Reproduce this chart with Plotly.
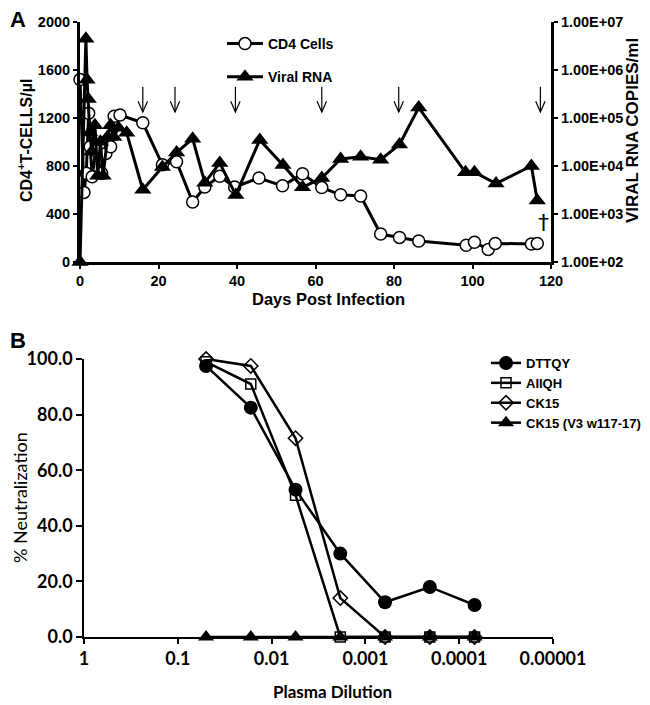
import plotly.graph_objects as go

# ---------------- Panel A data ----------------
cd4_days = [0, 1, 1.6, 2.2, 2.6, 3.1, 4, 5.5, 6.6, 7.8, 8.7, 10.2, 16, 21, 24.6, 28.7,
            31.8, 35.6, 39.4, 45.6, 51.6, 56.7, 61.6, 66.4, 71.5, 76.6, 81.4, 86.3,
            98.4, 100.5, 104, 105.8, 115, 116.5]
cd4_cells = [1520, 580, 740, 1240, 960, 710, 930, 740, 905, 960, 1215, 1225, 1160, 810, 835, 500,
             625, 715, 625, 700, 635, 735, 620, 560, 550, 233, 205, 175,
             140, 165, 105, 155, 150, 155]

rna_days = [0, 1.5, 1.8, 2.1, 2.5, 3.0, 3.8, 4.5, 5.2, 5.9, 7.0, 7.8, 8.6, 9.8, 11.9, 16, 21,
            24.6, 28.7, 31.8, 35.6, 39.7, 45.8, 51.7, 56.7, 61.6, 66.4, 71.5, 76.6, 81.4,
            86.3, 98.2, 100.5, 106, 115, 116.5]
rna_copies = [100, 4.5e6, 6.3e5, 2.5e5, 5.0e4, 2.0e4, 7.1e4, 6.3e3, 3.2e4, 6.3e3, 4.0e4, 7.1e4,
              4.0e4, 6.3e4, 4.9e4, 3.2e3, 9.5e3, 1.9e4, 3.7e4, 4.5e3, 1.15e4, 2.5e3, 3.5e4,
              1.05e4, 3.6e3, 5.6e3, 1.4e4, 1.55e4, 1.35e4, 2.8e4, 1.65e5, 7.4e3, 7.4e3, 4.3e3,
              1.0e4, 1.9e3]

arrow_days = [16, 24.2, 39.6, 61.6, 81.2, 117.3]
dagger_day = 118.0
dagger_level = 330

left_ticks = [0, 400, 800, 1200, 1600, 2000]
right_tickvals = [1e2, 1e3, 1e4, 1e5, 1e6, 1e7]
right_ticktext = ["1.00E+02", "1.00E+03", "1.00E+04", "1.00E+05", "1.00E+06", "1.00E+07"]
day_ticks = [0, 20, 40, 60, 80, 100, 120]

# ---------------- Panel B data ----------------
plasma_dilution = [1/20, 1/60, 1/180, 1/540, 1/1620, 1/4860, 1/14580]
dttqy = [97.5, 82.5, 53.0, 30.0, 12.5, 18.0, 11.5]
aiiqh = [99.0, 91.0, 51.0, 0.0, 0.0, 0.0, 0.0]
ck15 = [100.0, 97.5, 71.5, 14.0, 0.0, 0.0, 0.0]
ck15_v3 = [0.0, 0.0, 0.0, 0.0, 0.0, 0.0, 0.0]
dil_tickvals = [1, 0.1, 0.01, 0.001, 0.0001, 0.00001]
dil_ticktext = ["1", "0.1", "0.01", "0.001", "0.0001", "0.00001"]
neut_ticks = [0, 20, 40, 60, 80, 100]

W, H = 650, 705
OFF = 8  # page body margin
def px(x):
    return (x - OFF) / W
def py(y):
    return 1 - (y - OFF) / H

FA = "Liberation Sans"
FB = "Lato"

fig = go.Figure()

# Panel A traces
fig.add_trace(go.Scatter(
    x=cd4_days, y=cd4_cells, name="CD4 Cells", mode="lines+markers",
    line=dict(color="black", width=3),
    marker=dict(symbol="circle", size=12, color="white", line=dict(color="black", width=1.5)),
    xaxis="x", yaxis="y", cliponaxis=False, legend="legend", legendgroup="a1"))
fig.add_trace(go.Scatter(
    x=rna_days, y=rna_copies, name="Viral RNA", mode="lines+markers",
    line=dict(color="black", width=3),
    marker=dict(symbol="triangle-up", size=15, color="black"),
    xaxis="x", yaxis="y2", cliponaxis=False, legend="legend", legendgroup="a2"))

# Panel B traces
series_b = [
    ("DTTQY", dttqy, dict(symbol="circle", size=14, color="black")),
    ("AIIQH", aiiqh, dict(symbol="square-open", size=10, color="black", line=dict(width=1.5))),
    ("CK15", ck15, dict(symbol="diamond-open", size=11, color="black", line=dict(width=1.5))),
    ("CK15 (V3 w117-17)", ck15_v3, dict(symbol="triangle-up", size=14, color="black")),
]
for name, vals, mk in series_b:
    fig.add_trace(go.Scatter(
        x=plasma_dilution, y=vals, name=name, mode="lines+markers",
        line=dict(color="black", width=2.5), marker=mk,
        xaxis="x3", yaxis="y3", cliponaxis=False, legend="legend2"))

shapes = []
for d in arrow_days:
    shapes.append(dict(type="line", xref="x", yref="y", x0=d, x1=d, y0=1460, y1=1250,
                       line=dict(color="black", width=1.2)))
    shapes.append(dict(type="path", xref="x", yref="y",
                       path=f"M {d-1.2},{1340} L {d},{1250} L {d+1.2},{1340}",
                       line=dict(color="black", width=1.2)))

def note(text, x, y, size, family=FA, angle=0, xanchor="center"):
    return dict(text=text, x=x, y=y, xref="paper", yref="paper", showarrow=False,
                textangle=angle, xanchor=xanchor, yanchor="middle",
                font=dict(family=family, size=size, color="black"))

annotations = [
    note("<b>A</b>", 0, py(19), 22, xanchor="left"),
    note("<b>B</b>", 0, py(340), 22, xanchor="left"),
    note("<b>CD4<sup>+</sup>T-CELLS/µl</b>", px(25), py(141), 16, angle=-90),
    note("<b>VIRAL RNA COPIES/ml</b>", px(632), py(131), 17, angle=-90),
    note("<b>Days Post Infection</b>", px(328), py(299), 16.5),
    note("% Neutralization", px(20), py(498), 18, family=FB, angle=-90),
    note("<b>Plasma Dilution</b>", px(332), py(691), 17, family=FB),
    dict(text="†", x=dagger_day, y=dagger_level, xref="x", yref="y", showarrow=False,
         xanchor="center", yanchor="middle",
         font=dict(family="DejaVu Sans", size=22, color="black")),
]

axis_common_a = dict(showgrid=False, zeroline=False, showline=True, linecolor="black", linewidth=3,
                     ticks="outside", ticklen=4, tickwidth=2, tickcolor="black",
                     tickfont=dict(family=FA, size=14.5, color="black", weight="bold"),
                     automargin=False)
axis_common_b = dict(showgrid=False, zeroline=False, showline=True, linecolor="black", linewidth=1.5,
                     ticks="outside", tickwidth=1.5, tickcolor="black",
                     tickfont=dict(family=FB, size=18, color="black", weight="bold"),
                     automargin=False)

fig.update_layout(
    width=W, height=H, margin=dict(l=0, r=0, t=0, b=0, pad=0, autoexpand=False),
    paper_bgcolor="white", plot_bgcolor="white",
    showlegend=True,
    shapes=shapes, annotations=annotations,
    xaxis=dict(domain=[px(80), px(551)], range=[0, 120], tickvals=day_ticks,
               anchor="y", **axis_common_a),
    yaxis=dict(domain=[py(262), py(22)], range=[0, 2000], tickvals=left_ticks,
               anchor="x", **axis_common_a),
    yaxis2=dict(type="log", range=[2, 7], overlaying="y", side="right", anchor="x",
                tickvals=right_tickvals, ticktext=right_ticktext, **axis_common_a),
    xaxis3=dict(domain=[px(84), px(553)], type="log", range=[0, -5],
                tickvals=dil_tickvals, ticktext=dil_ticktext, ticklen=5,
                anchor="y3", **axis_common_b),
    yaxis3=dict(domain=[py(637), py(359)], range=[0, 100], tickvals=neut_ticks,
                tickformat=".1f", ticklen=6,
                anchor="x3", **axis_common_b),
    legend=dict(x=px(222), y=py(28), xanchor="left", yanchor="top",
                bgcolor="rgba(0,0,0,0)", itemwidth=36, tracegroupgap=12,
                font=dict(family=FA, size=14, color="black", weight="bold")),
    legend2=dict(x=px(486), y=py(348), xanchor="left", yanchor="top",
                 bgcolor="rgba(0,0,0,0)", itemwidth=30,
                 font=dict(family=FA, size=13, color="black", weight="bold")),
)

fig.write_html("out.html")
